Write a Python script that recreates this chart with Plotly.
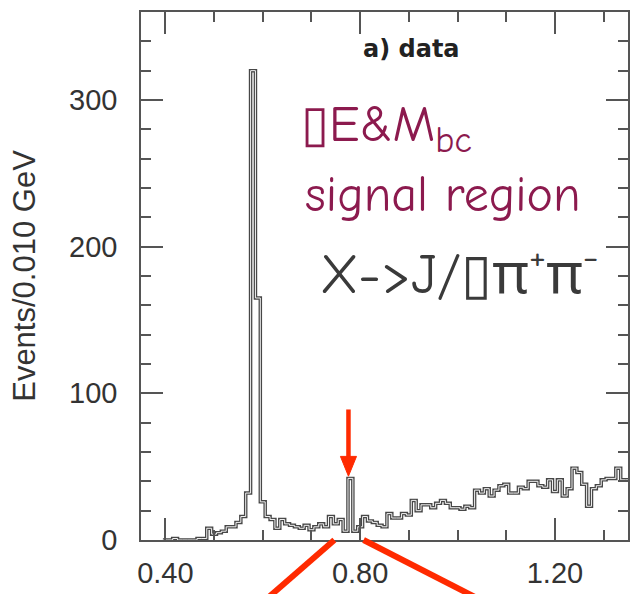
import plotly.graph_objects as go

# Histogram: bin centres (GeV) and event counts per 0.010 GeV bin
bin_width = 0.010
bin_centers = [round(0.40 + 0.01 * i, 2) for i in range(96)]
counts = [
    0, 0, 1, 0, 0, 0, 0, 1, 1, 8,          # 0.40 - 0.49
    4, 5, 6, 9, 9, 12, 16, 32, 320, 165,    # 0.50 - 0.59
    26, 16, 14, 8, 14, 11, 10, 9, 8, 10,    # 0.60 - 0.69
    7, 9, 11, 9, 16, 11, 14, 6, 42, 6,      # 0.70 - 0.79
    9, 16, 13, 12, 10, 9, 18, 15, 15, 18,   # 0.80 - 0.89
    17, 27, 20, 24, 24, 22, 25, 27, 25, 22, # 0.90 - 0.99
    22, 21, 23, 22, 34, 32, 35, 30, 34, 37, # 1.00 - 1.09
    38, 32, 32, 36, 35, 40, 40, 37, 36, 41, # 1.10 - 1.19
    33, 41, 30, 35, 49, 46, 38, 23, 35, 37, # 1.20 - 1.29
    41, 42, 42, 49, 41, 41,                 # 1.30 - 1.35
]

x_ticks = [0.40, 0.80, 1.20]
y_ticks = [0, 100, 200, 300]

# step outline built from the bin edges
edges = [c - bin_width / 2 for c in bin_centers] + [bin_centers[-1] + bin_width / 2]
step_x = [edges[0]] + edges
step_y = [0] + counts + [counts[-1]]

fig = go.Figure()
fig.add_trace(go.Scatter(x=step_x, y=step_y, mode="lines", line_shape="hv",
                         line=dict(color="#474747", width=3.5), hoverinfo="skip"))
fig.add_trace(go.Scatter(x=step_x, y=step_y, mode="lines", line_shape="hv",
                         line=dict(color="#f2f2f2", width=1.0), hoverinfo="skip"))

label_font = dict(family="Liberation Sans, Arial, sans-serif", size=29, color="#333333")
axis_common = dict(
    showline=True, mirror="allticks", linecolor="#555555", linewidth=1.6,
    ticks="inside", ticklen=22, tickwidth=1.6, tickcolor="#555555",
    showgrid=False, zeroline=False, tickfont=label_font,
)

fig.update_xaxes(
    range=[0.35, 1.35], tickvals=x_ticks, tickformat=".2f",
    minor=dict(dtick=0.1, tick0=0.4, ticklen=10, tickwidth=1.6, tickcolor="#555555",
               ticks="inside", showgrid=False),
    ticklabelstandoff=6,
    **axis_common,
)
fig.update_yaxes(
    range=[0, 360], tickvals=y_ticks,
    minor=dict(dtick=20, tick0=0, ticklen=10, tickwidth=1.6, tickcolor="#555555",
               ticks="inside", showgrid=False),
    ticklabelstandoff=16,
    title=dict(text="Events/0.010 GeV", standoff=24,
               font=dict(family="Liberation Sans, Arial, sans-serif", size=31, color="#333333")),
    **axis_common,
)

maroon = "#8c1a4e"
hand_font = "Comic Sans MS, Comic Neue, Noto Sans, sans-serif"

fig.add_annotation(xref="paper", yref="paper", x=0.556, y=0.93, xanchor="center", yanchor="middle",
                   text="<b>a) data</b>", showarrow=False,
                   font=dict(family="DejaVu Sans, sans-serif", size=24, color="#222222"))
fig.add_annotation(xref="paper", yref="paper", x=0.325, y=0.78, xanchor="left", yanchor="middle",
                   text="▯E&M<sub>bc</sub>", showarrow=False,
                   font=dict(family=hand_font, size=51, color=maroon))
fig.add_annotation(xref="paper", yref="paper", x=0.333, y=0.653, xanchor="left", yanchor="middle",
                   text="signal region", showarrow=False,
                   font=dict(family=hand_font, size=50, color=maroon))
fig.add_annotation(xref="paper", yref="paper", x=0.364, y=0.511, xanchor="left", yanchor="middle",
                   text="X->J/▯π<sup>+</sup>π<sup>-</sup>", showarrow=False,
                   font=dict(family=hand_font, size=56, color="#3a3a3a"))

# red arrow pointing at the narrow peak (shaft + head in data coordinates)
red = "#ff2a00"
peak_x = 0.776
fig.add_shape(type="line", xref="x", yref="y", x0=peak_x, y0=89, x1=peak_x, y1=55,
              line=dict(color=red, width=4.5))
fig.add_shape(type="path", xref="x", yref="y",
              path=f"M {peak_x - 0.0165},{57} L {peak_x + 0.0165},{57} L {peak_x},{43.5} Z",
              fillcolor=red, line=dict(color=red, width=1))

# lines fanning out below the axis from the peak window
fig.add_shape(type="line", xref="paper", yref="paper", x0=0.397, y0=0.0, x1=0.26, y1=-0.11,
              line=dict(color=red, width=6))
fig.add_shape(type="line", xref="paper", yref="paper", x0=0.457, y0=0.0, x1=0.69, y1=-0.11,
              line=dict(color=red, width=6))

fig.update_layout(
    width=631, height=594,
    margin=dict(l=141, r=1, t=12, b=54),
    paper_bgcolor="white", plot_bgcolor="white",
    showlegend=False,
)

fig.write_html("out.html")
